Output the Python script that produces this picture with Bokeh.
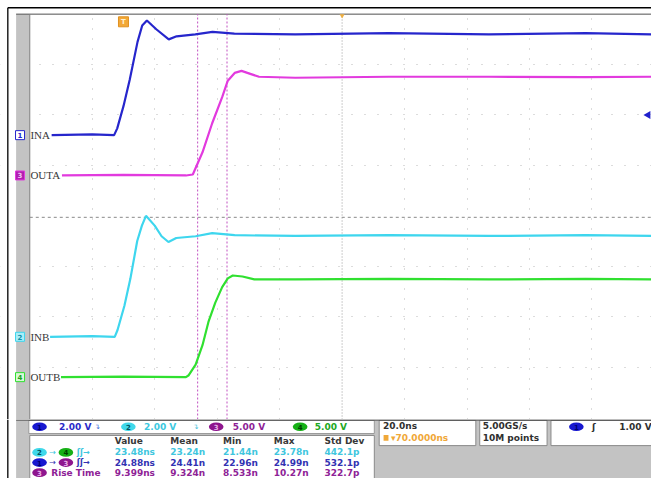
import numpy as np
from bokeh.plotting import figure
from bokeh.models import Range1d
from bokeh.layouts import column
from bokeh.core.properties import value
from bokeh.embed import file_html
from bokeh.resources import INLINE

# ---------------- data ----------------
ch_labels = ["INA", "INB", "OUTA", "OUTB"]          # CH1..CH4
ch_numbers = ["1", "2", "3", "4"]
ch_volts_per_div = [2.0, 2.0, 5.0, 5.0]
ch_offset_div = [1.6, -2.4, 0.8, -3.2]
ch_colors = ["#2626cc", "#3ed6ee", "#e23ade", "#30e030"]

# CH1  INA (time in ns, volts)
ina_t = [-93, -80, -73, -72, -70, -68, -65.5, -64, -62.5, -59.5, -55.5, -53, -47, -41.5,
         -34.5, -15, 15, 47, 78, 99]
ina_v = [0.0, 0.03, 0.0, 0.27, 1.15, 2.2, 3.7, 4.35, 4.55, 4.2, 3.8, 3.92, 4.0, 4.1,
         4.03, 4.0, 4.05, 4.0, 4.05, 4.0]
# CH2  INB
inb_t = [-93.5, -80, -72.8, -71.9, -69.7, -67.8, -65.6, -64.1, -62.8, -60, -57.8, -55.6,
         -53.1, -46.9, -41.6, -34.4, -15, 15, 47, 78, 99]
inb_v = [0.0, 0.03, 0.0, 0.27, 1.23, 2.3, 3.8, 4.41, 4.8, 4.41, 3.99, 3.76,
         3.92, 3.99, 4.11, 4.03, 4.0, 4.03, 4.0, 4.03, 4.0]
# CH3  OUTA
outa_t = [-89.7, -70, -50, -47.8, -44.7, -41.6, -38.4, -36.6, -34.4, -32.2, -29.4, -26.6,
          -15, 15, 47, 78, 99]
outa_v = [0.0, 0.05, 0.0, 0.1, 2.3, 5.18, 7.77, 9.4, 10.17, 10.37, 10.08, 9.79,
          9.69, 9.79, 9.79, 9.75, 9.79]
# CH4  OUTB
outb_t = [-90, -70, -50, -49.1, -46.9, -44.7, -42.8, -40.6, -38.4, -36.6, -35, -31.9,
          -28.1, -15, 15, 47, 78, 99]
outb_v = [0.0, 0.05, 0.0, 0.19, 1.25, 3.17, 5.47, 7.39, 8.93, 9.79, 10.08, 9.98,
          9.69, 9.69, 9.74, 9.69, 9.74, 9.69]

trigger_pos_ns = -70.0
trigger_marker_v = 0.8
cursor_a_ns = -46.25
rise_time_ns = 9.399

ch_row_text = ["2.00 V", "2.00 V", "5.00 V", "5.00 V"]
meas_headers = ["Value", "Mean", "Min", "Max", "Std Dev"]
meas_2to4 = ["23.48ns", "23.24n", "21.44n", "23.78n", "442.1p"]
meas_1to3 = ["24.88ns", "24.41n", "22.96n", "24.99n", "532.1p"]
meas_rise = ["9.399ns", "9.324n", "8.533n", "10.27n", "322.7p"]
timebase_text = "20.0ns"
delay_text = "\u25be70.0000ns"
sample_rate_text = "5.00GS/s"
record_text = "10M points"
trigger_text = "1.00 V"

# ---------------- scope screen ----------------
W = 651
HA, HB = 419, 59
PX_NS = 3.2          # screen pixels per ns (reference scale)
PX_DIV = 52.1        # screen pixels per division (reference scale)
X0 = -350 / PX_NS
X1 = (667 - 350) / PX_NS
Y1 = 222.5 / PX_DIV
Y0 = (222.5 - 433) / PX_DIV
STRIP_L = (16 - 350) / PX_NS
GRAY = "#c3c3c3"

pa = figure(width=W, height=HA, x_range=Range1d(X0, X1), y_range=Range1d(Y0, Y1),
            output_backend="svg", toolbar_location=None,
            x_axis_location=None, y_axis_location=None)
pa.min_border_left = pa.min_border_right = pa.min_border_top = pa.min_border_bottom = 0
pa.outline_line_color = None
pa.background_fill_color = "white"
pa.border_fill_color = "white"
pa.xgrid.ticker = [-80, -60, -40, -20, 20, 40, 60, 80]
pa.ygrid.ticker = [-3, -2, -1, 1, 2, 3]
pa.xgrid.grid_line_color = "#b8b8b8"
pa.xgrid.grid_line_dash = "1 9"
pa.ygrid.grid_line_color = "#b8b8b8"
pa.ygrid.grid_line_dash = "1 12"

# decorations: white margins, gray channel strip, borders
pa.quad(left=[X0], right=[STRIP_L], bottom=[Y0], top=[Y1], fill_color="white", line_color=None)
pa.quad(left=[X0], right=[X1], bottom=[4], top=[Y1], fill_color="white", line_color=None)
pa.quad(left=[STRIP_L], right=[-100], bottom=[Y0], top=[4], fill_color=GRAY, line_color=None)
xb = X0 + 7.5 / PX_NS
yb = Y1 - 7.5 / PX_DIV
pa.segment(x0=[xb], y0=[Y0], x1=[xb], y1=[yb], line_color="black", line_width=1.3)
pa.segment(x0=[xb], y0=[yb], x1=[X1], y1=[yb], line_color="black", line_width=1.3)
pa.segment(x0=[STRIP_L], y0=[4], x1=[X1], y1=[4], line_color="#505050", line_width=1)
pa.segment(x0=[-100], y0=[Y0], x1=[-100], y1=[4], line_color="#808080", line_width=1)
# centre lines
pa.segment(x0=[-100], y0=[-0.03], x1=[X1], y1=[-0.03], line_color="#8a8a8a", line_width=1, line_dash="3 3")
pa.segment(x0=[0], y0=[Y0], x1=[0], y1=[4], line_color="#9a9a9a", line_width=1, line_dash="1 2")
# cursors
cur = [cursor_a_ns, cursor_a_ns + rise_time_ns]
pa.segment(x0=cur, y0=[Y0, Y0], x1=cur, y1=[4, 4], line_color="#c050c0", line_width=1, line_dash="2 2")

# traces
traces = [(ina_t, ina_v), (inb_t, inb_v), (outa_t, outa_v), (outb_t, outb_v)]
for i in [2, 3, 1, 0]:
    t, v = traces[i]
    y = [ch_offset_div[i] + vv / ch_volts_per_div[i] for vv in v]
    pa.line(t, y, line_color=ch_colors[i], line_width=2.2)

# channel ground markers + names
mx = (20 - 350) / PX_NS
marker_fill = ["white", "#a8eef8", "#b020b0", "#d8f8d8"]
marker_text = ["#2626cc", "#1090a8", "#f0c0f0", "#20a020"]
pa.scatter([mx] * 4, ch_offset_div, marker="square", size=9, fill_color=marker_fill,
           line_color=ch_colors, line_width=1)
pa.text([mx] * 4, ch_offset_div, text=ch_numbers, text_color=marker_text,
        text_font=value("DejaVu Sans"), text_font_size="7px", text_font_style="bold",
        text_align="center", text_baseline="middle")
pa.text([-99.8] * 4, ch_offset_div, text=ch_labels, text_color="#383838",
        text_font=value("Liberation Serif"), text_font_size="11px",
        text_align="left", text_baseline="middle")

# trigger position (T) and trigger level marker
pa.scatter([trigger_pos_ns], [3.848], marker="square", size=10, fill_color="#f2a838",
           line_color="#e09020")
pa.text([trigger_pos_ns], [3.848], text=["T"], text_color="#fff2d0",
        text_font=value("DejaVu Sans"), text_font_size="7px", text_font_style="bold",
        text_align="center", text_baseline="middle")
pa.scatter([0], [3.97], marker="inverted_triangle", size=5, fill_color="#f0b040", line_color=None)
pa.scatter([X1 - 3.5 / PX_NS], [ch_offset_div[0] + trigger_marker_v / ch_volts_per_div[0]],
           marker="triangle", angle=np.pi / 2, size=8, fill_color="#2020cc", line_color=None)

# ---------------- status / measurement panel (screen-pixel coordinates) ----------------
pb = figure(width=W, height=HB, x_range=Range1d(0, 667), y_range=Range1d(494, 433),
            output_backend="svg", toolbar_location=None,
            x_axis_location=None, y_axis_location=None)
pb.min_border_left = pb.min_border_right = pb.min_border_top = pb.min_border_bottom = 0
pb.outline_line_color = None
pb.grid.visible = False
pb.background_fill_color = "white"
pb.border_fill_color = "white"

pb.quad(left=[16], right=[667], top=[433], bottom=[494], fill_color=GRAY, line_color=None)
pb.segment(x0=[7.5], y0=[433], x1=[7.5], y1=[494], line_color="black", line_width=1.3)
pb.quad(left=[29], right=[383], top=[434], bottom=[447.5], fill_color="white", line_color="#9a9a9a")
pb.quad(left=[30], right=[383], top=[449.5], bottom=[500], fill_color="white", line_color="#8a8a8a")
pb.quad(left=[388, 491, 564], right=[487, 560, 690], top=[434, 434, 434], bottom=[460, 460, 460],
        fill_color="white", line_color="#8a8a8a")
pb.segment(x0=[16], y0=[433.5], x1=[667], y1=[433.5], line_color="#303030", line_width=1.2)

F = value("DejaVu Sans")
FS = "9px"
row1_y = 440.5
oval_fill = ["#1818d0", "#40d8ea", "#8e168e", "#16b016"]
oval_txt = ["#000070", "#005060", "#e8b0e8", "#004000"]
val_cols = ["#2a2ac8", "#3cc8e0", "#8e1e96", "#22a822"]
ox = [40, 131, 221, 307]
tx = [60, 147, 238, 322]
pb.ellipse(ox, [row1_y] * 4, width=15, height=9, fill_color=oval_fill, line_color=None)
pb.text(ox, [row1_y] * 4, text=ch_numbers, text_color=oval_txt, text_font=F,
        text_font_size="7px", text_font_style="bold", text_align="center", text_baseline="middle")
pb.text(tx, [row1_y] * 4, text=ch_row_text, text_color=val_cols, text_font=F,
        text_font_size=FS, text_font_style="bold", text_baseline="middle")
pb.text([96, 197], [row1_y, row1_y], text=["\u21b4", "\u21b4"], text_color=["#3a6ad8", "#40c0d8"],
        text_font=F, text_font_size="7px", text_baseline="middle")

# measurement table
hy = 455.5
rows_y = [467, 477.5, 488]
col_x = [117, 174, 228, 280, 332]
pb.text(col_x, [hy] * 5, text=meas_headers, text_color="#383838", text_font=F,
        text_font_size=FS, text_font_style="bold", text_baseline="middle")
row_cols = ["#40c6de", "#3232b2", "#8e2296"]
for r, vals in enumerate([meas_2to4, meas_1to3, meas_rise]):
    pb.text(col_x, [rows_y[r]] * 5, text=vals, text_color=row_cols[r], text_font=F,
            text_font_size=FS, text_font_style="bold", text_baseline="middle")
# row labels
lab_y = [rows_y[0], rows_y[0], rows_y[1], rows_y[1], rows_y[2]]
pb.ellipse([40, 67, 40, 67, 40], lab_y, width=15, height=9,
           fill_color=[oval_fill[1], oval_fill[3], oval_fill[0], oval_fill[2], oval_fill[2]],
           line_color=None)
pb.text([40, 67, 40, 67, 40], lab_y, text=["2", "4", "1", "3", "3"],
        text_color=[oval_txt[1], oval_txt[3], oval_txt[0], oval_txt[2], oval_txt[2]],
        text_font=F, text_font_size="7px", text_font_style="bold",
        text_align="center", text_baseline="middle")
pb.text([50, 50], [rows_y[0], rows_y[1]], text=["\u2192", "\u2192"], text_color=["#40c6de", "#3232b2"],
        text_font=F, text_font_size="8px", text_baseline="middle")
pb.text([78, 78], [rows_y[0], rows_y[1]], text=["\u0283\u0283\u2192", "\u0283\u0283\u2192"],
        text_color=["#40c6de", "#3232b2"], text_font=F, text_font_size="8px",
        text_font_style="bold", text_baseline="middle")
pb.text([52], [rows_y[2]], text=["Rise Time"], text_color="#8e2296", text_font=F,
        text_font_size=FS, text_font_style="bold", text_baseline="middle")

# timebase / acquisition / trigger boxes
pb.text([392, 494, 494], [440, 440, 452], text=[timebase_text, sample_rate_text, record_text],
        text_color="#303030", text_font=F, text_font_size=FS, text_font_style="bold",
        text_baseline="middle")
pb.quad(left=[392.5], right=[397.5], top=[449], bottom=[455], fill_color="#f0a838", line_color=None)
pb.text([400], [452], text=[delay_text], text_color="#f0a838", text_font=F,
        text_font_size=FS, text_font_style="bold", text_baseline="middle")
pb.ellipse([590], [440.5], width=15, height=9, fill_color="#1818d0", line_color=None)
pb.text([590], [440.5], text=["1"], text_color="#000070", text_font=F, text_font_size="7px",
        text_font_style="bold", text_align="center", text_baseline="middle")
pb.text([606, 634], [440.5, 440.5], text=["\u0283", trigger_text], text_color="#303030",
        text_font=F, text_font_size=FS, text_font_style="bold", text_baseline="middle")

layout = column(pa, pb)
open("out.html", "w").write(file_html(layout, INLINE))
